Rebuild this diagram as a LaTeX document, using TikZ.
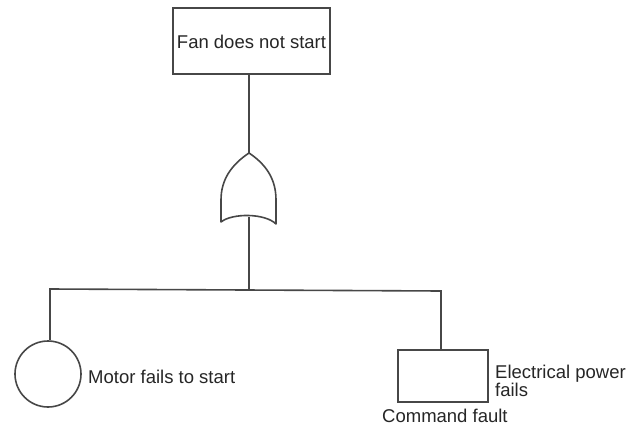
\documentclass[tikz,border=0pt]{standalone}
\usepackage{fontspec}
\setmainfont{Liberation Sans}
\begin{document}
\begin{tikzpicture}[x=1pt,y=-1pt,
  wire/.style={draw=black!72,line width=1.6pt},
  lbl/.style={text=black!85,inner sep=0pt,font=\fontsize{18.5}{18}\selectfont},
  eventbox/.style={wire,rectangle,inner sep=0pt},
  basicev/.style={wire,circle,inner sep=0pt,minimum size=66pt}]
\useasboundingbox[fill=white] (0,0) rectangle (631,433);

% top event
\node[eventbox,lbl,draw=black!72,minimum width=157pt,minimum height=66pt,text height=16pt,text depth=0pt] (top) at (251.5,41) {Fan does not start};

% OR gate
\coordinate (gtop) at (249,153);
\coordinate (gout) at (249,217);
\draw[wire,line join=round] (gtop) .. controls (231,165) and (221,180) .. (221,200) -- (221,222)
  .. controls (232,213) and (265,213) .. (276,224) -- (276,200)
  .. controls (276,180) and (267,165) .. (gtop) -- cycle;
\draw[wire] (top.south -| gtop) -- (gtop);

% bus
\coordinate (busL) at (50,289);
\coordinate (busR) at (441,291);
\coordinate (busM) at (249,290);
\draw[wire] (gout) -- (busM);

% basic event
\node[basicev] (motor) at (48,374) {};
\node[lbl,anchor=base west] (motortxt) at (88,383) {Motor fails to start};

% command fault box
\node[eventbox,minimum width=90pt,minimum height=52pt] (power) at (443,376) {};
\node[lbl,anchor=north west,align=left] (powertxt) at (495,364.5) {Electrical power\\fails};
\node[lbl,anchor=base west] (cmdtxt) at (382,422) {Command fault};

\draw[wire,line join=miter] (motor.north -| busL) -- (busL) -- (busR) -- (power.north -| busR);
\end{tikzpicture}
\end{document}
